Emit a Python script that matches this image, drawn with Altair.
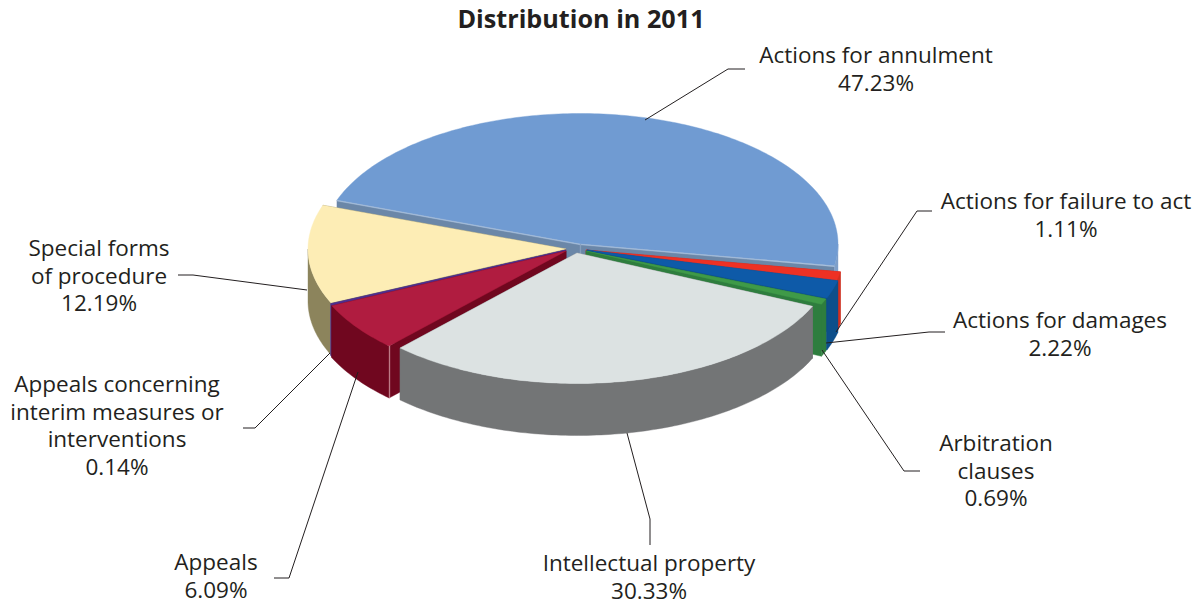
import numpy as np
import pandas as pd
import altair as alt

# ---- chart values ----
categories = ["Actions for annulment", "Actions for failure to act", "Actions for damages",
              "Arbitration clauses", "Intellectual property", "Appeals",
              "Appeals concerning interim measures or interventions", "Special forms of procedure"]
shares = [47.23, 1.11, 2.22, 0.69, 30.33, 6.09, 0.14, 12.19]
label_lines = [["Actions for annulment"], ["Actions for failure to act"], ["Actions for damages"],
               ["Arbitration", "clauses"], ["Intellectual property"], ["Appeals"],
               ["Appeals concerning", "interim measures or", "interventions"],
               ["Special forms", "of procedure"]]
title_text = "Distribution in 2011"

# ---- layout and style ----
W, H, M = 1187, 595, 8
A, B, DEPTH = 258, 130.5, 52
START = -70.4
centres = [(580, 244), (586, 250), (587, 250), (586, 251), (577, 253), (566, 251), (566, 250), (566, 249)]
tops = ["#709bd2", "#ee3124", "#0e5aa8", "#3f9a48", "#dce2e2", "#b01c40", "#4f2f90", "#fdedb5"]
walls = ["#7fa0c9", "#d4301f", "#0d4f8b", "#2e7d3e", "#737576", "#70071f", "#4f2f90", "#8c845c"]
cuts = ["#6b87a8", "#c22a1e", "#0d4f8b", "#2e7d3e", "#737576", "#70071f", "#4f2f90", "#8c845c"]
paint_order = [0, 1, 2, 3, 7, 6, 5, 4]
label_x = [876, 1066, 1060, 996, 649, 216, 117, 99]
label_y = [63, 209, 328, 451, 571, 570, 392, 256]
LINE = 27.6
leaders = [[(645, 120), (728, 69), (745, 69)],
           [(836, 332), (917, 211), (932, 211)],
           [(826, 343), (929, 332), (945, 332)],
           [(822, 350), (904, 471), (920, 471)],
           [(627, 433), (650, 519), (650, 545)],
           [(358, 372), (289, 578), (274, 578)],
           [(330, 353), (255, 428), (243, 428)],
           [(307, 290), (193, 275), (178, 275)]]

# ---- geometry from shares ----
total = sum(shares)
edges = START + np.cumsum([0] + shares) / total * 360


def rim(c, t0, t1, drop=0.0):
    n = max(2, int(abs(t1 - t0)) + 2)
    th = np.radians(np.linspace(t0, t1, n))
    return [[round(float(c[0] + A * np.sin(t) - M), 2), round(float(c[1] - B * np.cos(t) + drop - M), 2)] for t in th]


def poly(points, fill):
    ring = points + [points[0]]
    return {"type": "Feature", "properties": {"fill": fill},
            "geometry": {"type": "Polygon", "coordinates": [ring]}}


features = []
for i in paint_order:
    c, t0, t1 = centres[i], edges[i], edges[i + 1]
    apex = [c[0] - M, c[1] - M]
    apex_low = [apex[0], apex[1] + DEPTH]
    for t in (t0, t1):
        a = rim(c, t, t)[0]
        b = rim(c, t, t, DEPTH)[0]
        features.append(poly([apex, a, b, apex_low], cuts[i]))
    w0, w1 = max(t0, 90), min(t1, 270)
    if w1 > w0:
        features.append(poly(rim(c, w0, w1) + rim(c, w0, w1, DEPTH)[::-1], walls[i]))
    features.append(poly([apex] + rim(c, t0, t1), tops[i]))
    if i == 0:  # pale highlight on the cut edges of the large slice
        a = rim(c, t0, t0)[0]
        features.append(poly([apex, a, [a[0], a[1] + 0.8], [apex[0], apex[1] + 0.8]], "#a9c0dc"))
        a = rim(c, t1, t1)[0]
        features.append(poly([apex, a, [a[0], a[1] + 0.8], [apex[0], apex[1] + 0.8]], "#a9c0dc"))
        features.append(poly([apex, [apex[0] + 0.8, apex[1]], [apex_low[0] + 0.8, apex_low[1]], apex_low], "#8ba3bf"))
    if i == 5:  # pale highlight on the front corner of the crimson slice
        a = rim(c, t0, t0)[0]
        b = rim(c, t0, t0, DEPTH)[0]
        features.append(poly([a, [a[0] + 0.8, a[1]], [b[0] + 0.8, b[1]], b], "#c98a95"))

pie = alt.Chart(alt.InlineData(values={"type": "FeatureCollection", "features": features},
                               format=alt.DataFormat(property="features", type="json"))).mark_geoshape(
    strokeWidth=0.4, filled=True
).encode(
    fill=alt.Fill("properties.fill:N", scale=None),
    stroke=alt.Stroke("properties.fill:N", scale=None),
).project(type="identity", scale=1, translate=[0, 0])

rows = []
for i, pts in enumerate(leaders):
    for j, (x, y) in enumerate(pts):
        rows.append({"x": x - M, "y": y - M, "k": i, "o": j})
lines = alt.Chart(pd.DataFrame(rows)).mark_line(color="#231f20", strokeWidth=1).encode(
    x=alt.X("x:Q", scale=None), y=alt.Y("y:Q", scale=None), detail="k:N", order="o:Q")

trows = []
for i, ls in enumerate(label_lines):
    for j, s in enumerate(ls + [f"{shares[i]:.2f}%"]):
        trows.append({"x": label_x[i] - M, "y": label_y[i] + j * LINE - M, "t": s})
texts = alt.Chart(pd.DataFrame(trows)).mark_text(
    font="Open Sans", fontSize=22.5, color="#231f20", align="center", baseline="alphabetic"
).encode(x=alt.X("x:Q", scale=None), y=alt.Y("y:Q", scale=None), text="t:N")

title = alt.Chart(pd.DataFrame({"x": [581 - M], "y": [28 - M], "t": [title_text]})).mark_text(
    font="Open Sans", fontSize=25.2, fontWeight="bold", color="#231f20", align="center", baseline="alphabetic"
).encode(x=alt.X("x:Q", scale=None), y=alt.Y("y:Q", scale=None), text="t:N")

chart = alt.layer(pie, lines, texts, title).properties(
    width=W, height=H, padding=0, autosize=alt.AutoSizeParams(type="none"), background="white"
).configure_view(stroke=None)

chart.save("out.html", embed_options={"renderer": "svg", "actions": False})
